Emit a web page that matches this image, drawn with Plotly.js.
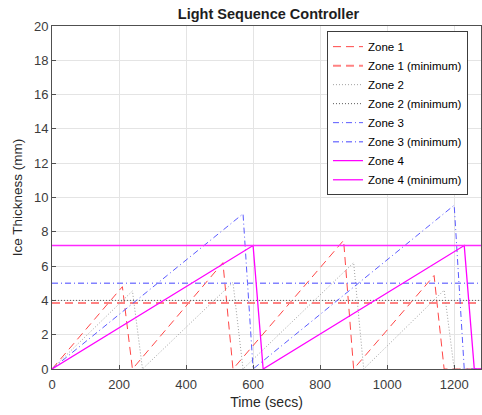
<!DOCTYPE html>
<html>
<head>
<meta charset="utf-8">
<script src="https://cdn.plot.ly/plotly-3.0.1.min.js"></script>
<style>html,body{margin:0;padding:0;background:#fff;}#chart{width:482px;height:415px;}</style>
</head>
<body>
<div id="chart"></div>
<script>
// Data
var zone1T = [0, 210, 240, 510, 540, 870, 900, 1140, 1170, 1280];
var zone1Y = [0, 4.8, 0, 6.2, 0, 7.5, 0, 5.45, 0, 0];
var zone2T = [0, 240, 270, 540, 570, 900, 930, 1170, 1200, 1280];
var zone2Y = [0, 4.55, 0, 5.05, 0, 6.2, 0, 4.6, 0, 0];
var zone3T = [0, 570, 600, 1200, 1230, 1280];
var zone3Y = [0, 9.05, 0, 9.55, 0, 0];
var zone4T = [0, 600, 630, 1230, 1260, 1280];
var zone4Y = [0, 7.2, 0, 7.2, 0, 0];
var minT = [0, 1280];
var zone1Min = 3.85;
var zone2Min = 4.0;
var zone3Min = 5.0;
var zone4Min = 7.2;
var names = ["Zone 1", "Zone 1 (minimum)", "Zone 2", "Zone 2 (minimum)", "Zone 3", "Zone 3 (minimum)", "Zone 4", "Zone 4 (minimum)"];
var xTicks = [0, 200, 400, 600, 800, 1000, 1200];
var yTicks = [0, 2, 4, 6, 8, 10, 12, 14, 16, 18, 20];

function flat(v) { return minT.map(function () { return v; }); }

var traces = [
  {x: zone1T, y: zone1Y, name: names[0], line: {color: "rgb(255,70,70)", width: 1, dash: "8px,5px"}},
  {x: minT, y: flat(zone1Min), name: names[1], line: {color: "rgb(255,130,130)", width: 2, dash: "8px,5px"}},
  {x: zone2T, y: zone2Y, name: names[2], line: {color: "rgb(160,160,160)", width: 1, dash: "1px,2px"}},
  {x: minT, y: flat(zone2Min), name: names[3], line: {color: "rgb(90,90,90)", width: 1, dash: "1px,2px"}},
  {x: zone3T, y: zone3Y, name: names[4], line: {color: "rgb(90,90,255)", width: 1, dash: "6px,3px,1px,3px"}},
  {x: minT, y: flat(zone3Min), name: names[5], line: {color: "rgb(130,130,255)", width: 1.5, dash: "6px,3px,1px,3px"}},
  {x: zone4T, y: zone4Y, name: names[6], line: {color: "rgb(255,0,255)", width: 1.3}},
  {x: minT, y: flat(zone4Min), name: names[7], line: {color: "rgb(255,40,255)", width: 1.5}}
];
traces.forEach(function (t) { t.type = "scatter"; t.mode = "lines"; });

var FONT = "Liberation Sans, Arial, sans-serif";
var axisCommon = {
  showline: true, mirror: true, linecolor: "rgb(80,80,80)", linewidth: 1,
  ticks: "inside", ticklen: 4, tickcolor: "rgb(80,80,80)",
  showgrid: true, gridcolor: "rgb(228,228,228)", gridwidth: 1,
  zeroline: false,
  tickfont: {family: FONT, size: 13, color: "rgb(60,60,60)"}
};

var layout = {
  width: 482, height: 415,
  margin: {l: 52, r: 1, t: 26, b: 46},
  paper_bgcolor: "#fff", plot_bgcolor: "#fff",
  title: {text: "<b>Light Sequence Controller</b>", x: 0.557, xanchor: "center", y: 0.978, yanchor: "top",
          font: {family: FONT, size: 14.5, color: "rgb(30,30,30)"}},
  xaxis: Object.assign({}, axisCommon, {range: [0, 1280], tickvals: xTicks, ticktext: xTicks.map(String),
    ticklabelstandoff: 3,
    title: {text: "Time (secs)", standoff: 6, font: {family: FONT, size: 14, color: "rgb(40,40,40)"}}}),
  yaxis: Object.assign({}, axisCommon, {range: [0, 20], tickvals: yTicks, ticktext: yTicks.map(String),
    title: {text: "Ice Thickness (mm)", standoff: 8, font: {family: FONT, size: 13.5, color: "rgb(40,40,40)"}}}),
  showlegend: true,
  legend: {x: 0.641, y: 0.985, xanchor: "left", yanchor: "top", bgcolor: "#fff",
           bordercolor: "rgb(60,60,60)", borderwidth: 1, tracegroupgap: 0,
           font: {family: FONT, size: 11.5, color: "#000"}}
};

Plotly.newPlot("chart", traces, layout, {displayModeBar: false, staticPlot: true});
</script>
</body>
</html>
